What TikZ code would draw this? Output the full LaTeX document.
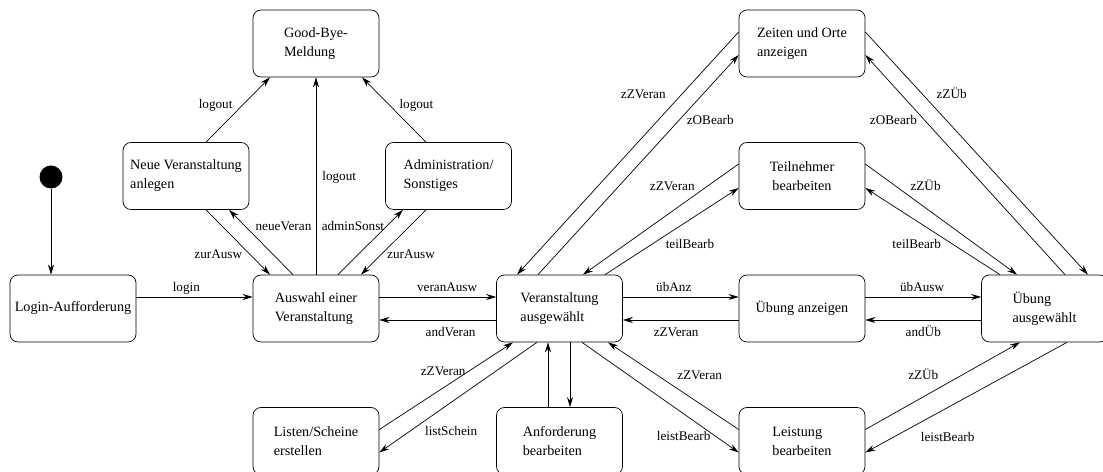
\documentclass[tikz,border=0pt]{standalone}
\usepackage{fontspec}
\setmainfont{Liberation Serif}
\usepackage{tikz}
\usetikzlibrary{arrows.meta,positioning}

\begin{document}
\begin{tikzpicture}[
    x=1bp, y=1bp,
    state/.style={draw, rounded corners=8bp, minimum width=126bp, minimum height=67bp,
        align=left, line width=0.7bp, font=\fontsize{14.2bp}{19bp}\selectfont},
    lbl/.style={inner sep=1bp, text height=9bp, text depth=3bp,
        font=\fontsize{13.2bp}{15bp}\selectfont},
    arr/.style={-{Stealth[length=10bp,width=6bp]}, line width=0.7bp}
]
    \useasboundingbox (0,0) rectangle (1103,472);

    \node[circle, fill, minimum size=23bp, inner sep=0pt] (init) at (51,295) {};
    \node[state] (login)   at (73,163.5)   {Login-Aufforderung};
    \node[state] (auswahl) at (316,163.5)  {Auswahl einer\\Veranstaltung};
    \node[state] (veran)   at (559.5,163.5) {Veranstaltung\\ausgewählt};
    \node[state] (uebAnz)  at (802,163.5)  {Übung anzeigen};
    \node[state] (uebAusw) at (1044.5,163.5) {Übung\\ausgewählt};
    \node[state] (goodbye) at (316,428.5)  {Good-Bye-\\Meldung};
    \node[state] (zeiten)  at (802,428.5)  {Zeiten und Orte\\anzeigen};
    \node[state] (neueVer) at (186,296)    {Neue Veranstaltung\\anlegen};
    \node[state] (admin)   at (448.5,296)  {Administration/\\Sonstiges};
    \node[state, align=center] (teiln) at (802,296) {Teilnehmer\\bearbeiten};
    \node[state] (listen)  at (316,31)     {Listen/Scheine\\erstellen};
    \node[state] (anford)  at (559.5,31)   {Anforderung\\bearbeiten};
    \node[state] (leist)   at (802,31)     {Leistung\\bearbeiten};

    \draw[arr] (init) -- (init |- login.north);

    \draw[arr] ([yshift=11.5bp]login.east) -- node[lbl, pos=.43, above=1bp] {login} ([yshift=11.5bp]auswahl.west);
    \draw[arr] ([yshift=11.5bp]auswahl.east) -- node[lbl, pos=.58, above=1bp] {veranAusw} ([yshift=11.5bp]veran.west);
    \draw[arr] ([yshift=-11.5bp]veran.west) -- node[lbl, pos=.39, below=6bp] {andVeran} ([yshift=-11.5bp]auswahl.east);
    \draw[arr] ([yshift=11.5bp]veran.east) -- node[lbl, pos=.44, above=1bp] {übAnz} ([yshift=11.5bp]uebAnz.west);
    \draw[arr] ([yshift=-11.5bp]uebAnz.west) -- node[lbl, pos=.54, below=6bp] {zZVeran} ([yshift=-11.5bp]veran.east);
    \draw[arr] ([yshift=11.5bp]uebAnz.east) -- node[lbl, pos=.49, above=1bp] {übAusw} ([yshift=11.5bp]uebAusw.west);
    \draw[arr] ([yshift=-11.5bp]uebAusw.west) -- node[lbl, pos=.5, below=6bp] {andÜb} ([yshift=-11.5bp]uebAnz.east);

    \draw[arr] ([xshift=20bp]neueVer.north) -- node[lbl, pos=.56, left=8bp] {logout} ([xshift=-46bp]goodbye.south);
    \draw[arr] (auswahl.north) -- node[lbl, pos=.49, right=5bp] {logout} (goodbye.south);
    \draw[arr] ([xshift=-22.5bp]admin.north) -- node[lbl, pos=.56, right=8bp] {logout} ([xshift=46bp]goodbye.south);
    \draw[arr] ([xshift=20bp]neueVer.south) -- node[lbl, pos=.71, left=8bp] {zurAusw} ([xshift=-46bp]auswahl.north);
    \draw[arr] ([xshift=-23bp]auswahl.north) -- node[lbl, pos=.73, right=8bp] {neueVeran} ([xshift=43bp]neueVer.south);
    \draw[arr] ([xshift=22bp]auswahl.north) -- node[lbl, pos=.73, left=0bp] {adminSonst} ([xshift=-45.5bp]admin.south);
    \draw[arr] ([xshift=-22.5bp]admin.south) -- node[lbl, pos=.71, right=6bp] {zurAusw} ([xshift=45bp]auswahl.north);

    \draw[arr] ([yshift=11.5bp]zeiten.west) -- node[lbl, pos=.26, left=14bp] {zZVeran} ([xshift=-42.5bp]veran.north);
    \draw[arr] ([xshift=-21.5bp]veran.north) -- node[lbl, pos=.695, right=8bp] {zOBearb} ([yshift=-11.5bp]zeiten.west);
    \draw[arr] ([yshift=11.5bp]zeiten.east) -- node[lbl, pos=.26, right=12bp] {zZÜb} ([xshift=43.5bp]uebAusw.north);
    \draw[arr] ([xshift=20.5bp]uebAusw.north) -- node[lbl, pos=.695, left=8bp] {zOBearb} ([yshift=-11.5bp]zeiten.east);
    \draw[arr] ([yshift=12bp]teiln.west) -- node[lbl, pos=.21, left=10bp] {zZVeran} ([xshift=23.5bp]veran.north);
    \draw[arr] ([xshift=45.5bp]veran.north) -- node[lbl, pos=.34, right=14bp] {teilBearb} ([yshift=-12bp]teiln.west);
    \draw[arr] ([yshift=12bp]teiln.east) -- node[lbl, pos=.21, right=12bp] {zZÜb} ([xshift=-27.5bp]uebAusw.north);
    \draw[arr] ([xshift=-44.5bp]uebAusw.north) -- node[lbl, pos=.34, left=12bp] {teilBearb} ([yshift=-12bp]teiln.east);

    \draw[arr] ([yshift=11.5bp]listen.east) -- node[lbl, pos=.655, left=0bp] {zZVeran} ([xshift=-46.5bp]veran.south);
    \draw[arr] ([xshift=-22.5bp]veran.south) -- node[lbl, pos=.82, right=16bp] {listSchein} ([yshift=-11.5bp]listen.east);
    \draw[arr] ([xshift=-11.5bp]anford.north) -- ([xshift=-11.5bp]veran.south);
    \draw[arr] ([xshift=10.5bp]veran.south) -- ([xshift=10.5bp]anford.north);
    \draw[arr] ([xshift=22.5bp]veran.south) -- node[lbl, pos=.86, left=5bp] {leistBearb} ([yshift=-11.5bp]leist.west);
    \draw[arr] ([yshift=11.5bp]leist.west) -- node[lbl, pos=.61, right=17bp] {zZVeran} ([xshift=48.5bp]veran.south);
    \draw[arr] ([yshift=11.5bp]leist.east) -- node[lbl, pos=.61, left=20bp] {zZÜb} ([xshift=-24.5bp]uebAusw.south);
    \draw[arr] ([xshift=22.5bp]uebAusw.south) -- node[lbl, pos=.87, right=28bp] {leistBearb} ([yshift=-11.5bp]leist.east);
\end{tikzpicture}
\end{document}
